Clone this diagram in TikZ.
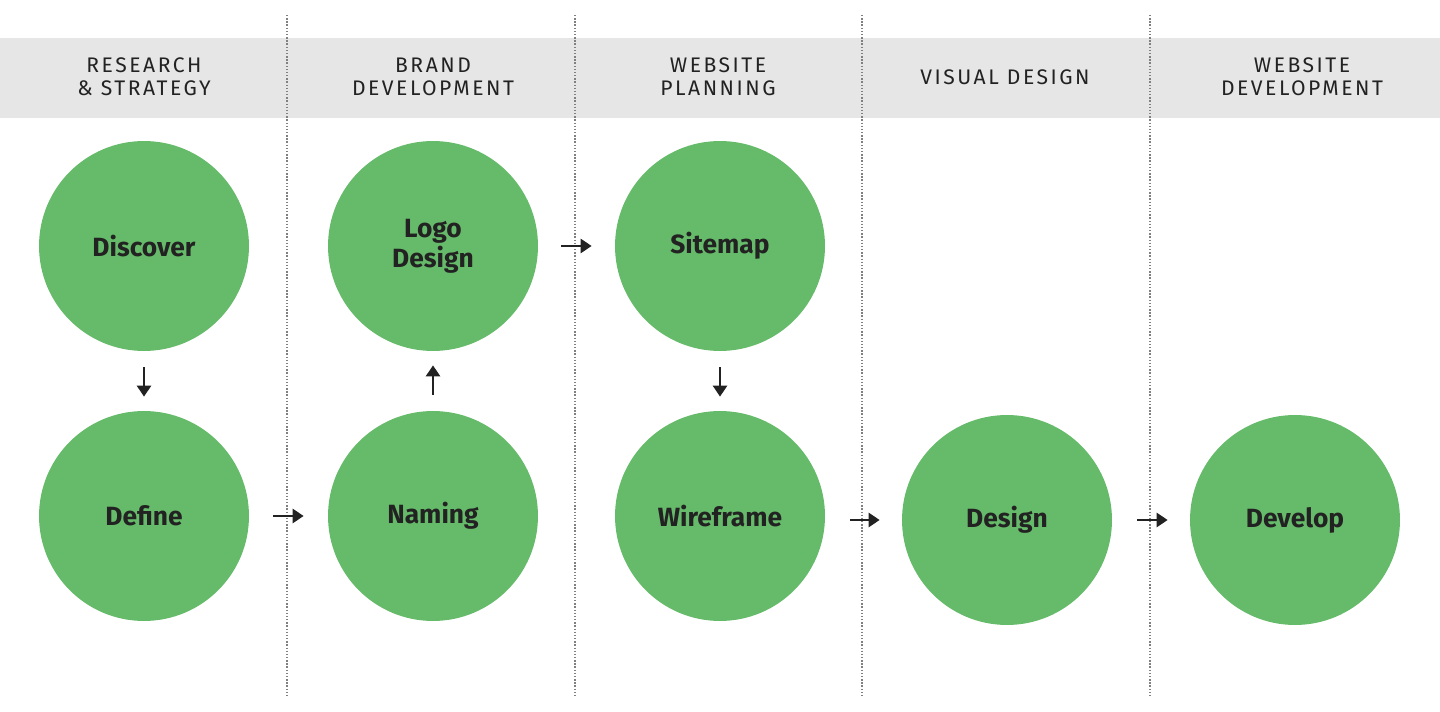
\documentclass[tikz,border=0pt]{standalone}
\usepackage{fontspec}
\setmainfont{Fira Sans}
\newfontfamily\headfont[LetterSpace=12]{Fira Sans}
\usetikzlibrary{arrows.meta, positioning}
\definecolor{stepgreen}{HTML}{66BB6A}
\definecolor{bandgray}{HTML}{E6E6E6}
\definecolor{inkdark}{HTML}{222222}

\begin{document}
\begin{tikzpicture}[x=0.02cm, y=-0.02cm,
    every node/.style={align=center},
    stage/.style={circle, fill=stepgreen, minimum size=4.2cm, inner sep=0pt,
                  font=\bfseries\fontsize{15}{17}\selectfont, text=inkdark},
    phase/.style={font=\headfont\fontsize{12}{13}\selectfont, text=inkdark},
    divider/.style={gray, densely dotted, line width=0.8pt},
    arrow/.style={-{Triangle[length=2.2mm, width=2.8mm]}, line width=1.3pt, inkdark}
]
\useasboundingbox (0,0) rectangle (1440,712);

% --- Header band ---
\fill[bandgray] (0,38) rectangle (1440,118);
\foreach \x in {287,575,862,1150}
  \draw[divider] (\x,15) -- (\x,695);

\node[phase] (h1) at (144,77) {RESEARCH\\\& STRATEGY};
\node[phase] (h2) at (433,77) {BRAND\\DEVELOPMENT};
\node[phase] (h3) at (718,77) {WEBSITE\\PLANNING};
\node[phase] (h4) at (1005,77) {VISUAL DESIGN};
\node[phase] (h5) at (1302,77) {WEBSITE\\DEVELOPMENT};

% --- Nodes ---
\node[stage] (discover) at (144,246) {Discover};
\node[stage] (define) at (144,516) {Define};
\node[stage] (logo) at (433,246) {Logo\\Design};
\node[stage] (naming) at (433,516) {Naming};
\node[stage] (sitemap) at (720,246) {Sitemap};
\node[stage] (wireframe) at (720,516) {Wireframe};
\node[stage] (design) at (1007,520) {Design};
\node[stage] (develop) at (1295,520) {Develop};

% --- Arrows ---
\draw[arrow, shorten <=0.32cm, shorten >=0.28cm] (discover) -- (define);
\draw[arrow, shorten <=0.48cm, shorten >=0.48cm] (define) -- (naming);
\draw[arrow, shorten <=0.32cm, shorten >=0.28cm] (naming) -- (logo);
\draw[arrow, shorten <=0.46cm, shorten >=0.46cm] (logo) -- (sitemap);
\draw[arrow, shorten <=0.32cm, shorten >=0.28cm] (sitemap) -- (wireframe);
\draw[arrow, shorten <=0.5cm, shorten >=0.44cm] (wireframe.east |- design) -- (design);
\draw[arrow, shorten <=0.5cm, shorten >=0.44cm] (design) -- (develop);

\end{tikzpicture}
\end{document}
